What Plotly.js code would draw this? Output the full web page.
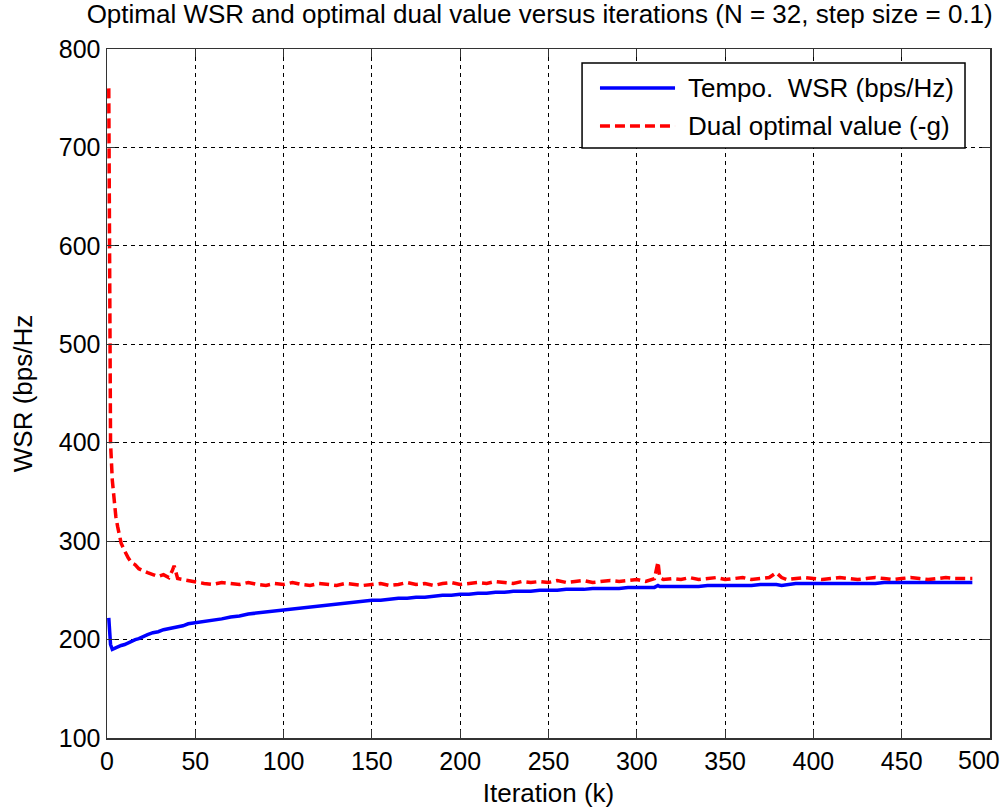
<!DOCTYPE html>
<html>
<head>
<meta charset="utf-8">
<script src="https://cdn.plot.ly/plotly-3.0.1.min.js"></script>
<style>html,body{margin:0;padding:0;background:#fff;}#chart{width:1005px;height:808px;}</style>
</head>
<body>
<div id="chart"></div>
<script>
const iterations = [1,2,3,4,5,6,7,8,10,12,14,16,18,20,23,26,29,32,35,37,38,40,43,46,
  50,55,60,65,70,75,80,85,90,95,100,105,110,115,120,125,130,135,140,145,
  150,155,160,165,170,175,180,185,190,195,200,205,210,215,220,225,230,235,240,245,
  250,255,260,265,270,275,280,285,290,295,300,305,310,312,313,315,
  320,325,330,335,340,345,350,355,360,365,370,375,379,382,
  385,390,395,400,405,410,415,420,425,430,435,440,445,450,455,460,465,470,475,480,485,490];
const tempoWSR = [222,195,190,191,192,192,193,194,195,197,198,200,201,203,205,207,208,210,211,212,212,213,214,216,
  217,218,220,221,223,224,226,227,228,229,230,231,232,233,234,235,236,237,238,239,
  240,240,241,242,242,243,243,244,245,245,246,246,247,247,248,248,249,249,249,250,
  250,250,251,251,251,252,252,252,252,253,253,253,253,255,254,254,
  254,254,254,254,255,255,255,255,255,255,256,256,256,255,
  256,257,257,257,257,257,257,257,257,257,257,258,258,258,258,258,258,258,258,258,258,258];
const dualValue = [760,400,362,340,325,315,305,298,290,283,278,276,272,270,268,266,264,266,263,270,275,262,261,260,
  258,257,256,258,257,256,258,256,255,257,256,258,256,255,257,256,255,257,256,255,
  256,257,255,256,258,256,257,255,257,258,256,257,258,257,259,258,257,259,258,259,
  258,260,258,259,260,258,259,260,259,260,261,259,262,279,263,261,
  262,261,263,261,262,263,261,262,263,261,262,263,268,263,
  261,262,263,262,261,262,263,262,261,262,263,262,261,262,263,262,261,262,263,262,262,262];
const xTicks = [0,50,100,150,200,250,300,350,400,450,500];
const yTicks = [100,200,300,400,500,600,700,800];
const seriesNames = ['Tempo.  WSR (bps/Hz)', 'Dual optimal value (-g)'];
const seriesColors = ['#0000ff', '#ff0000'];

const fontFamily = 'Liberation Sans, Arial, sans-serif';
const tickFont = {family: fontFamily, size: 25, color: '#000'};
const labelFont = {family: fontFamily, size: 26, color: '#000'};
const traces = [
  {x: iterations, y: tempoWSR, type: 'scatter', mode: 'lines', name: seriesNames[0],
   line: {color: seriesColors[0], width: 3.5}},
  {x: iterations, y: dualValue, type: 'scatter', mode: 'lines', name: seriesNames[1],
   line: {color: seriesColors[1], width: 3.5, dash: '10px,5px'}}
];
const axisCommon = {
  showline: true, linecolor: '#333', linewidth: 1.5, mirror: 'ticks',
  ticks: 'inside', ticklen: 8, tickcolor: '#333', tickwidth: 1,
  showgrid: true, gridcolor: '#000', gridwidth: 1, griddash: '4px,4px',
  zeroline: false, tickfont: tickFont
};
// last x tick label drawn as annotation so it stays inside the page
const xTickText = xTicks.map((v, i) => i === xTicks.length - 1 ? '' : String(v));
const lastTick = xTicks[xTicks.length - 1];

// manual legend (long line samples like the original)
const lg = {x0: 0.538, x1: 0.9717, y0: 0.8563, y1: 0.9797, lx0: 0.5583, lx1: 0.6433, tx: 0.6557, rows: [0.9434, 0.8882]};
const shapes = [
  {type: 'rect', xref: 'paper', yref: 'paper', x0: lg.x0, x1: lg.x1, y0: lg.y0, y1: lg.y1,
   line: {color: '#000', width: 1.5}, fillcolor: '#fff', layer: 'above'},
  {type: 'line', xref: 'paper', yref: 'paper', x0: lg.lx0, x1: lg.lx1, y0: lg.rows[0], y1: lg.rows[0],
   line: {color: seriesColors[0], width: 3.5}, layer: 'above'},
  {type: 'line', xref: 'paper', yref: 'paper', x0: lg.lx0, x1: lg.lx1, y0: lg.rows[1], y1: lg.rows[1],
   line: {color: seriesColors[1], width: 3.5, dash: '10px,5px'}, layer: 'above'}
];
const annotations = [
  {xref: 'paper', yref: 'paper', x: lg.tx, y: lg.rows[0], xanchor: 'left', yanchor: 'middle',
   text: seriesNames[0], showarrow: false, font: labelFont},
  {xref: 'paper', yref: 'paper', x: lg.tx, y: lg.rows[1], xanchor: 'left', yanchor: 'middle',
   text: seriesNames[1], showarrow: false, font: labelFont},
  {xref: 'x', yref: 'paper', x: lastTick, y: 0, xanchor: 'right', yanchor: 'top', xshift: 12, yshift: -6,
   text: String(lastTick), showarrow: false, font: tickFont}
];
const layout = {
  width: 1005, height: 808,
  margin: {l: 107, r: 15, t: 49, b: 70},
  paper_bgcolor: '#fff', plot_bgcolor: '#fff',
  font: labelFont,
  title: {text: 'Optimal WSR and optimal dual value versus iterations (N = 32, step size = 0.1)',
          font: labelFont, xref: 'container', yref: 'container', x: 0.537, xanchor: 'center',
          y: 0.983, yanchor: 'middle', pad: {t: 0, b: 0}},
  xaxis: Object.assign({}, axisCommon, {range: [0, 500], tickvals: xTicks, ticktext: xTickText,
          title: {text: 'Iteration (k)', font: labelFont, standoff: 10}}),
  yaxis: Object.assign({}, axisCommon, {range: [100, 800], tickvals: yTicks, ticktext: yTicks.map(String),
          title: {text: 'WSR (bps/Hz', font: labelFont, standoff: 18}}),
  showlegend: false,
  shapes: shapes,
  annotations: annotations
};
Plotly.newPlot('chart', traces, layout, {displayModeBar: false, staticPlot: true});
</script>
</body>
</html>
